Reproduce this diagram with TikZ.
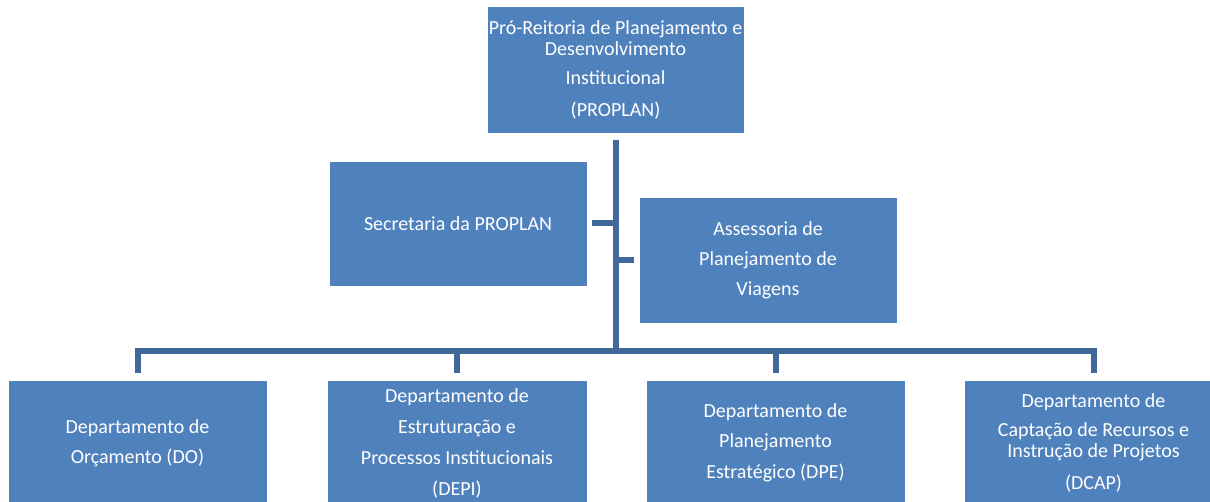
\documentclass[tikz,border=0pt]{standalone}
\usepackage{fontspec}
\setmainfont{Carlito}
\definecolor{boxblue}{HTML}{4F81BD}
\definecolor{lineblue}{HTML}{41689B}
\begin{document}
\begin{tikzpicture}[x=1pt,y=-1pt,
  orgbox/.style={rectangle, fill=boxblue, draw=white, line width=0.6pt, inner sep=0pt,
    minimum width=258pt, minimum height=126pt, text=white, align=center,
    font=\fontsize{20}{21}\selectfont},
  conn/.style={draw=lineblue, line width=6pt, line join=miter}]
\clip (0,0) rectangle (1210,502);
\fill[white] (0,0) rectangle (1210,502);
\node[orgbox, minimum width=257pt, minimum height=127pt] (top) at (615.5,69.5)
  {Pró-Reitoria de Planejamento e\\Desenvolvimento\\[8pt]Institucional\\[11pt](PROPLAN)};
\node[orgbox, minimum height=125pt] (sec) at (458,223.5) {Secretaria da PROPLAN};
\node[orgbox] (ass) at (768,260) {Assessoria de\\[9pt]Planejamento de\\[9pt]Viagens};
\node[orgbox, minimum width=259pt] (do) at (137.5,443) {Departamento de\\[9pt]Orçamento (DO)};
\node[orgbox, minimum width=260pt] (depi) at (457,443)
  {Departamento de\\[10pt]Estruturação e\\[10pt]Processos Institucionais\\[10pt](DEPI)};
\node[orgbox, minimum width=259pt] (dpe) at (775.5,443)
  {Departamento de\\[9pt]Planejamento\\[10pt]Estratégico (DPE)};
\node[orgbox, minimum width=259pt] (dcap) at (1093.5,443)
  {Departamento de\\[8pt]Captação de Recursos e\\Instrução de Projetos\\[11pt](DCAP)};
\coordinate (bus) at (616,351);
\draw[conn] ([yshift=-7pt]top.south) -- (top.south |- bus);
\draw[conn] ([xshift=5pt]sec.east) -- (sec.east -| top.south);
\draw[conn] ([xshift=-5pt]ass.west) -- (ass.west -| top.south);
\draw[conn] ([yshift=7pt]do.north) |- (bus) -| ([yshift=7pt]dcap.north);
\draw[conn] ([yshift=7pt]depi.north) -- (depi.north |- bus);
\draw[conn] ([yshift=7pt]dpe.north) -- (dpe.north |- bus);
\end{tikzpicture}
\end{document}
